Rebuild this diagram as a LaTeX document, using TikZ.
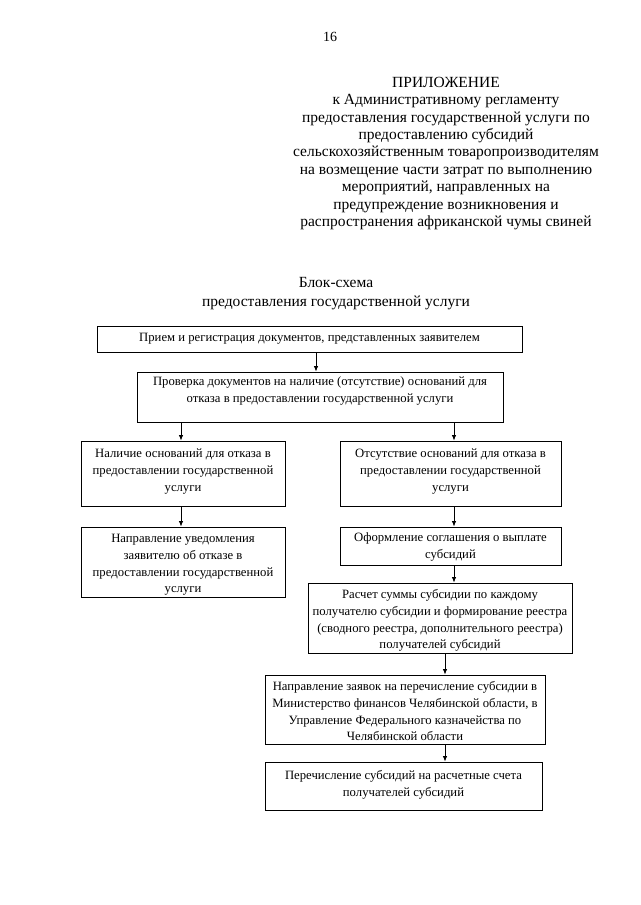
\documentclass[tikz,border=0pt]{standalone}
\usepackage{fontspec}
\setmainfont{Liberation Serif}
\usetikzlibrary{arrows.meta,fit}
\begin{document}
\begin{tikzpicture}[x=1pt,y=-1pt,
  box/.style={draw=black, line width=0.9pt, inner sep=0pt},
  txt/.style={font=\fontsize{12.7}{16.7}\selectfont, align=center, inner sep=0pt, anchor=north},
  head/.style={font=\fontsize{15.5}{17.4}\selectfont, align=center, inner sep=0pt, anchor=north},
  arr/.style={-{Latex[length=5.5pt,width=4.5pt]}, line width=0.8pt}]
\fill[white] (0,0) rectangle (640,905);
\path[use as bounding box] (0,0) rectangle (640,905);

% page number
\node[font=\fontsize{14}{16}\selectfont, inner sep=0pt] (pg) at (330,37) {16};

% appendix header
\node[head] (hdr) at (446,75) {\strut ПРИЛОЖЕНИЕ\\
к Административному регламенту\\
предоставления государственной услуги по\\
предоставлению субсидий\\
сельскохозяйственным товаропроизводителям\\
на возмещение части затрат по выполнению\\
мероприятий, направленных на\\
предупреждение возникновения и\\
распространения африканской чумы свиней};

% title
\node[head, font=\fontsize{15.5}{19}\selectfont] (ttl) at (336,274) {\strut Блок-схема\\
предоставления государственной услуги};

% boxes
\node[box, fit={(97,326)(522,352)}] (b1) {};
\node[box, fit={(137,372)(503,422)}] (b2) {};
\node[box, fit={(81,441)(285,506)}] (b3) {};
\node[box, fit={(340,441)(561,506)}] (b4) {};
\node[box, fit={(81,527)(285,597)}] (b5) {};
\node[box, fit={(340,527)(561,565)}] (b6) {};
\node[box, fit={(308,583)(572,653)}] (b7) {};
\node[box, fit={(265,675)(545,744)}] (b8) {};
\node[box, fit={(265,762)(542,810)}] (b9) {};

% texts
\node[txt] (t1) at (309.5,330) {\strut Прием и регистрация документов, представленных заявителем};
\node[txt] (t2) at (320,374) {\strut Проверка документов на наличие (отсутствие) оснований для\\
отказа в предоставлении государственной услуги};
\node[txt] (t3) at (183,446) {\strut Наличие оснований для отказа в\\
предоставлении государственной\\
услуги};
\node[txt] (t4) at (450.5,446) {\strut Отсутствие оснований для отказа в\\
предоставлении государственной\\
услуги};
\node[txt] (t5) at (183,531) {\strut Направление уведомления\\
заявителю об отказе в\\
предоставлении государственной\\
услуги};
\node[txt] (t6) at (450.5,530) {\strut Оформление соглашения о выплате\\
субсидий};
\node[txt] (t7) at (440,587) {\strut Расчет суммы субсидии по каждому\\
получателю субсидии и формирование реестра\\
(сводного реестра, дополнительного реестра)\\
получателей субсидий};
\node[txt] (t8) at (405,679) {\strut Направление заявок на перечисление субсидии в\\
Министерство финансов Челябинской области, в\\
Управление Федерального казначейства по\\
Челябинской области};
\node[txt] (t9) at (403.5,768) {\strut Перечисление субсидий на расчетные счета\\
получателей субсидий};

% arrow columns
\coordinate (xa) at (316,0);
\coordinate (xl) at (181,0);
\coordinate (xr) at (454,0);
\coordinate (xb) at (445,0);

\draw[arr] (b1.south -| xa) -- (b2.north -| xa);
\draw[arr] (b2.south -| xl) -- (b3.north -| xl);
\draw[arr] (b2.south -| xr) -- (b4.north -| xr);
\draw[arr] (b3.south -| xl) -- (b5.north -| xl);
\draw[arr] (b4.south -| xr) -- (b6.north -| xr);
\draw[arr] (b6.south -| xr) -- (b7.north -| xr);
\draw[arr] (b7.south -| xb) -- (b8.north -| xb);
\draw[arr] (b8.south -| xb) -- (b9.north -| xb);
\end{tikzpicture}
\end{document}
